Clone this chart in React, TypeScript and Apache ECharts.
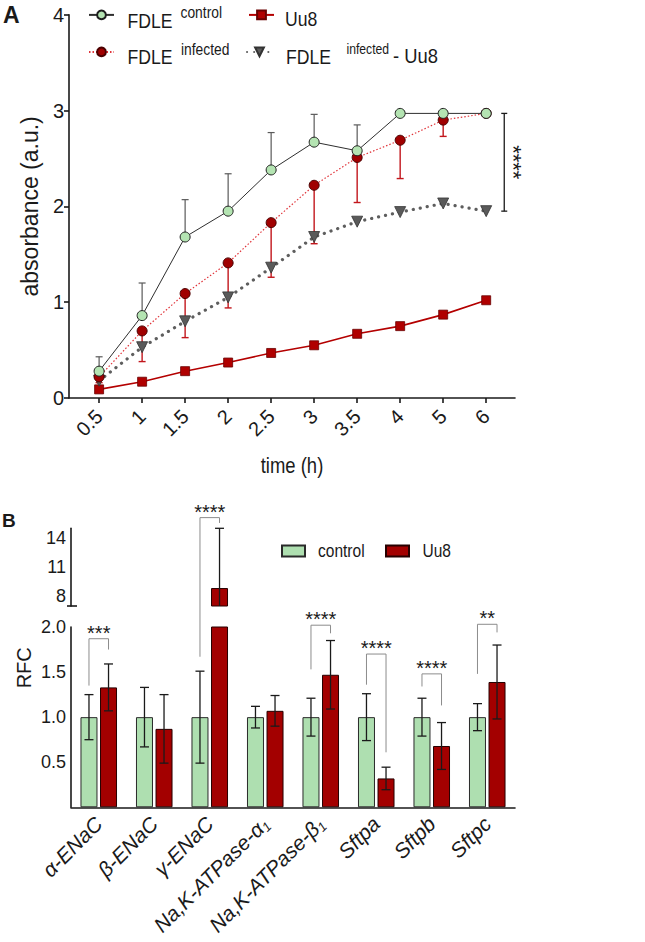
import React, { useEffect, useRef } from "react";
import * as echarts from "echarts";

// ---- Panel A: absorbance over time ----
const timeLabels = ["0.5", "1", "1.5", "2", "2.5", "3", "3.5", "4", "5", "6"];
const controlMean = [0.28, 0.86, 1.68, 1.95, 2.38, 2.67, 2.58, 2.97, 2.97, 2.97];
const controlSD = [0.15, 0.34, 0.39, 0.39, 0.39, 0.29, 0.27, 0, 0, 0];
const infectedMean = [0.22, 0.7, 1.09, 1.41, 1.83, 2.22, 2.51, 2.69, 2.9, 2.97];
const infectedSD = [0.06, 0.32, 0.46, 0.47, 0.57, 0.61, 0.47, 0.4, 0.17, 0];
const differenceMean = [0.18, 0.53, 0.8, 1.05, 1.36, 1.68, 1.84, 1.94, 2.03, 1.95];
const uu8Mean = [0.09, 0.17, 0.28, 0.37, 0.47, 0.55, 0.67, 0.75, 0.87, 1.02];
const absTicks = [0, 1, 2, 3, 4];
const sigAText = "****";

// ---- Panel B: relative fold change (broken axis) ----
const genes = ["α-ENaC", "β-ENaC", "γ-ENaC", "Na,K-ATPase-α1", "Na,K-ATPase-β1", "Sftpa", "Sftpb", "Sftpc"];
const controlRFC = [1, 1, 1, 1, 1, 1, 1, 1];
const controlRFCsd = [0.25, 0.33, 0.51, 0.12, 0.21, 0.26, 0.21, 0.15];
const uu8RFC = [1.33, 0.87, 8.85, 1.07, 1.47, 0.32, 0.68, 1.39];
const uu8RFCsd = [0.26, 0.38, 6.15, 0.17, 0.38, 0.125, 0.26, 0.41];
const lowerTicks = [0.5, 1, 1.5, 2];
const upperTicks = [8, 11, 14];
const lowerRange = [0, 2];
const upperRange = [7, 15];

// significance brackets; values at or above upperRange[0] are read on the upper segment
const sigGene = [0, 2, 4, 5, 6, 7];
const sigText = ["***", "****", "****", "****", "****", "**"];
const sigTop = [1.87, 16.1, 2.02, 1.7, 1.48, 2.03];
const sigLeftEnd = [1.35, 1.67, 1.53, 1.36, 1.34, 1.48];
const sigRightEnd = [1.75, 15.55, 1.93, 0.61, 1.13, 1.94];

const FONT = "'Liberation Sans', Arial, sans-serif";
const INK = "#1a1a1a";
const NARROW_X = 0.84; // horizontal squeeze for the condensed lettering

const BAR_W = 17;
const BAR_GAP = 0.15;
const BAR_DX = (BAR_W * (1 + BAR_GAP)) / 2;

const GREEN = "#aedfb0";
const DARK_RED = "#a30000";

const GRID_A = { left: 69, top: 14.7, width: 446, height: 383.3 };

const axisLine = { show: true, onZero: false, lineStyle: { color: INK, width: 1.6 } };
const tickStyle = { lineStyle: { color: INK, width: 1.6 }, length: 5 };

function errorBars(o: { up: boolean; down: boolean; dx: number; color: string; cap: number; width: number }) {
  return (params: any, api: any) => {
    const sd = api.value(2);
    if (!sd) return null;
    const i = api.value(0);
    const m = api.value(1);
    const cs = params.coordSys;
    const yMin = cs.y;
    const yMax = cs.y + cs.height;
    const x = api.coord([i, m])[0] + o.dx;
    const yHi = api.coord([i, o.up ? m + sd : m])[1];
    const yLo = api.coord([i, o.down ? m - sd : m])[1];
    const a = Math.max(yHi, yMin);
    const b = Math.min(yLo, yMax);
    if (a >= b) return null;
    const style = { stroke: o.color, lineWidth: o.width, fill: "none" };
    const children: any[] = [{ type: "line", shape: { x1: x, y1: a, x2: x, y2: b }, style }];
    if (o.up && yHi >= yMin - 0.5) children.push({ type: "line", shape: { x1: x - o.cap, y1: yHi, x2: x + o.cap, y2: yHi }, style });
    if (o.down && yLo <= yMax + 0.5) children.push({ type: "line", shape: { x1: x - o.cap, y1: yLo, x2: x + o.cap, y2: yLo }, style });
    return { type: "group", children };
  };
}

// legend keys only draw the sample; their wording is set as text below
function legendKey(name: string, left: number, centerY: number, w: number, h: number, icon?: string) {
  return {
    data: [name],
    left,
    top: centerY - h / 2,
    padding: 0,
    itemWidth: w,
    itemHeight: h,
    selectedMode: false,
    ...(icon ? { icon } : {}),
    formatter: () => "",
    textStyle: { fontSize: 8, lineHeight: 8 },
  };
}

// legend wording: [text, left, baseline, fontSize, squeeze]
const legendWords: [string, number, number, number, number][] = [
  ["FDLE", 127.5, 27.3, 21, NARROW_X],
  ["control", 180.5, 17.3, 16.5, NARROW_X],
  ["Uu8", 285, 25.6, 20, 0.88],
  ["FDLE", 127.5, 63.6, 21, NARROW_X],
  ["infected", 181, 54.6, 16.5, NARROW_X],
  ["FDLE", 286, 63.6, 21, NARROW_X],
  ["infected", 346.5, 54.6, 14.5, NARROW_X],
  ["- Uu8", 393, 63.6, 20, 0.92],
  ["control", 318, 557, 18.5, NARROW_X],
  ["Uu8", 422.5, 557, 18.5, NARROW_X],
];

function geneLabel(name: string) {
  const m = name.match(/^(.*[αβ])1$/);
  if (m) return `{i|${m[1]}}{sub|1}`;
  return `{i|${name}}`;
}

function buildOption(): any {
  return {
    animation: false,
    grid: [
      { ...GRID_A, outerBoundsMode: "none" },
      { left: 71, top: 528.3, width: 444, height: 77.7, outerBoundsMode: "none" },
      { left: 71, top: 627, width: 444, height: 180.3, outerBoundsMode: "none" },
    ],
    xAxis: [
      {
        type: "value",
        gridIndex: 0,
        min: -0.7,
        max: 9.67,
        axisLine,
        splitLine: { show: false },
        axisTick: { ...tickStyle, customValues: timeLabels.map((_, i) => i) },
        axisLabel: {
          customValues: timeLabels.map((_, i) => i),
          formatter: (v: number) => timeLabels[Math.round(v)],
          rotate: 45,
          margin: 15,
          fontSize: 20,
          fontFamily: FONT,
          color: INK,
        },
      },
      { type: "category", gridIndex: 1, data: genes, show: false },
      {
        type: "category",
        gridIndex: 2,
        data: genes,
        axisLine,
        axisTick: { ...tickStyle, alignWithLabel: true },
        axisLabel: {
          interval: 0,
          rotate: 45,
          margin: 13,
          formatter: geneLabel,
          rich: {
            i: { fontSize: 21, fontStyle: "italic", fontFamily: FONT, color: INK, lineHeight: 24 },
            sub: { fontSize: 13, fontStyle: "italic", fontFamily: FONT, color: INK, lineHeight: 13, verticalAlign: "bottom" },
          },
        },
      },
    ],
    yAxis: [
      {
        type: "value",
        gridIndex: 0,
        min: 0,
        max: 4,
        interval: 1,
        axisLine,
        axisTick: { ...tickStyle, customValues: absTicks },
        splitLine: { show: false },
        axisLabel: { customValues: absTicks, fontSize: 20, fontFamily: FONT, color: INK, margin: 5 },
        name: "absorbance (a.u.)",
        nameLocation: "middle",
        nameGap: 18,
        nameTextStyle: { fontSize: 23, fontFamily: FONT, color: INK },
      },
      {
        type: "value",
        gridIndex: 1,
        min: upperRange[0],
        max: upperRange[1],
        axisLine,
        axisTick: { ...tickStyle, customValues: upperTicks },
        splitLine: { show: false },
        axisLabel: { customValues: upperTicks, fontSize: 18, fontFamily: FONT, color: INK, margin: 5 },
      },
      {
        type: "value",
        gridIndex: 2,
        min: lowerRange[0],
        max: lowerRange[1],
        axisLine,
        axisTick: { ...tickStyle, customValues: lowerTicks },
        splitLine: { show: false },
        axisLabel: {
          customValues: lowerTicks,
          formatter: (v: number) => Number(v).toFixed(1),
          fontSize: 18,
          fontFamily: FONT,
          color: INK,
          margin: 5,
        },
      },
    ],
    legend: [
      legendKey("FDLE control", 88, 15, 25, 11),
      legendKey("Uu8", 248, 15, 25, 11),
      legendKey("FDLE infected", 88, 52, 25, 11),
      legendKey("FDLE infected - Uu8", 246, 52, 25, 11),
      legendKey("control", 281, 550, 23, 11, "rect"),
      legendKey("Uu8 ", 385, 550, 23, 11, "rect"),
    ],
    series: [
      // Panel A error bars (behind the markers)
      {
        type: "custom",
        name: "control SD",
        xAxisIndex: 0,
        yAxisIndex: 0,
        silent: true,
        z: 1,
        encode: { x: 0, y: 1 },
        renderItem: errorBars({ up: true, down: false, dx: 0, color: "#5a5a5a", cap: 3.5, width: 1.2 }),
        data: controlMean.map((m, i) => [i, m, controlSD[i]]),
      },
      {
        type: "custom",
        name: "infected SD",
        xAxisIndex: 0,
        yAxisIndex: 0,
        silent: true,
        z: 1,
        encode: { x: 0, y: 1 },
        renderItem: errorBars({ up: false, down: true, dx: 0, color: "#c2161c", cap: 3.5, width: 1.4 }),
        data: infectedMean.map((m, i) => [i, m, infectedSD[i]]),
      },
      {
        type: "line",
        name: "Uu8",
        xAxisIndex: 0,
        yAxisIndex: 0,
        z: 2,
        data: uu8Mean.map((v, i) => [i, v]),
        symbol: "rect",
        symbolSize: 9,
        lineStyle: { color: "#b40000", width: 1.6 },
        itemStyle: { color: "#b00000", borderColor: "#6a0000", borderWidth: 0.8 },
      },
      {
        type: "line",
        name: "FDLE infected - Uu8",
        xAxisIndex: 0,
        yAxisIndex: 0,
        z: 2,
        data: differenceMean.map((v, i) => [i, v]),
        symbol: "triangle",
        symbolRotate: 180,
        symbolSize: 11,
        lineStyle: { color: "#5e5e5e", width: 3.2, type: [0.1, 7], cap: "round" },
        itemStyle: { color: "#5a5a5a", borderColor: "#333", borderWidth: 0.8 },
      },
      {
        type: "line",
        name: "FDLE infected",
        xAxisIndex: 0,
        yAxisIndex: 0,
        z: 3,
        data: infectedMean.map((v, i) => [i, v]),
        symbol: "circle",
        symbolSize: 10,
        lineStyle: { color: "#e0343a", width: 1.2, type: [1.5, 2] },
        itemStyle: { color: "#a00000", borderColor: "#4a0000", borderWidth: 1 },
      },
      {
        type: "line",
        name: "FDLE control",
        xAxisIndex: 0,
        yAxisIndex: 0,
        z: 4,
        data: controlMean.map((v, i) => [i, v]),
        symbol: "circle",
        symbolSize: 10,
        lineStyle: { color: "#2e2e2e", width: 1 },
        itemStyle: { color: "#b4e4b2", borderColor: "#1e1e1e", borderWidth: 1 },
      },
      // significance bracket at 6 h
      {
        type: "custom",
        name: "6 h significance",
        xAxisIndex: 0,
        yAxisIndex: 0,
        silent: true,
        encode: { x: 0, y: 1 },
        renderItem: (_p: any, api: any) => {
          const x = api.coord([api.value(0), 0])[0];
          const y1 = api.coord([0, api.value(1)])[1];
          const y2 = api.coord([0, api.value(2)])[1];
          const st = { stroke: INK, lineWidth: 1.3 };
          return {
            type: "group",
            children: [
              { type: "line", shape: { x1: x, y1, x2: x, y2 }, style: st },
              { type: "line", shape: { x1: x - 3, y1, x2: x + 3, y2: y1 }, style: st },
              { type: "line", shape: { x1: x - 3, y1: y2, x2: x + 3, y2 }, style: st },
              {
                type: "text",
                x: x + 9,
                y: (y1 + y2) / 2,
                rotation: -Math.PI / 2,
                style: { text: sigAText, x: 0, y: 0, align: "center", verticalAlign: "middle", fontSize: 22, fontFamily: FONT, fill: INK },
              },
            ],
          };
        },
        data: [[timeLabels.length - 1 + 0.42, controlMean[9], differenceMean[9]]],
      },
      // Panel B bars, lower segment
      {
        type: "bar",
        name: "control",
        xAxisIndex: 2,
        yAxisIndex: 2,
        barWidth: BAR_W,
        barGap: `${BAR_GAP * 100}%`,
        data: controlRFC,
        itemStyle: { color: GREEN, borderColor: "#2a2a2a", borderWidth: 1 },
      },
      {
        type: "bar",
        name: "Uu8 ",
        xAxisIndex: 2,
        yAxisIndex: 2,
        barWidth: BAR_W,
        barGap: `${BAR_GAP * 100}%`,
        data: uu8RFC,
        itemStyle: { color: DARK_RED, borderColor: "#260000", borderWidth: 1 },
      },
      // upper segment
      {
        type: "bar",
        name: "control",
        xAxisIndex: 1,
        yAxisIndex: 1,
        barWidth: BAR_W,
        barGap: `${BAR_GAP * 100}%`,
        data: controlRFC.map((v) => (v > upperRange[0] ? v : "-")),
        itemStyle: { color: GREEN, borderColor: "#2a2a2a", borderWidth: 1 },
      },
      {
        type: "bar",
        name: "Uu8 ",
        xAxisIndex: 1,
        yAxisIndex: 1,
        barWidth: BAR_W,
        barGap: `${BAR_GAP * 100}%`,
        data: uu8RFC.map((v) => (v > upperRange[0] ? v : "-")),
        itemStyle: { color: DARK_RED, borderColor: "#260000", borderWidth: 1 },
      },
      {
        type: "custom",
        name: "control RFC SD",
        xAxisIndex: 2,
        yAxisIndex: 2,
        silent: true,
        z: 5,
        encode: { x: 0, y: 1 },
        renderItem: errorBars({ up: true, down: true, dx: -BAR_DX, color: INK, cap: 4.5, width: 1.3 }),
        data: controlRFC.map((m, i) => [i, m, controlRFCsd[i]]),
      },
      {
        type: "custom",
        name: "Uu8 RFC SD",
        xAxisIndex: 2,
        yAxisIndex: 2,
        silent: true,
        z: 5,
        encode: { x: 0, y: 1 },
        renderItem: errorBars({ up: true, down: true, dx: BAR_DX, color: INK, cap: 4.5, width: 1.3 }),
        data: uu8RFC.map((m, i) => [i, m, uu8RFCsd[i]]),
      },
      {
        type: "custom",
        name: "Uu8 RFC SD upper",
        xAxisIndex: 1,
        yAxisIndex: 1,
        silent: true,
        z: 5,
        encode: { x: 0, y: 1 },
        renderItem: errorBars({ up: true, down: true, dx: BAR_DX, color: INK, cap: 4.5, width: 1.3 }),
        data: uu8RFC.map((m, i) => [i, m, uu8RFCsd[i]]),
      },
    ],
  };
}

function buildGraphics(chart: echarts.ECharts): any[] {
  const px = (gene: number, v: number) => {
    const upper = v >= upperRange[0];
    return chart.convertToPixel({ gridIndex: upper ? 1 : 2 }, [genes[gene], v]) as number[];
  };
  const els: any[] = [
    { type: "text", x: 3, y: 3, style: { text: "A", fontSize: 23, fontWeight: "bold", fontFamily: FONT, fill: INK } },
    { type: "text", x: 2, y: 511, style: { text: "B", fontSize: 19, fontWeight: "bold", fontFamily: FONT, fill: INK } },
    // x-axis title of panel A, centred under the axis
    {
      type: "text",
      x: GRID_A.left + GRID_A.width / 2,
      y: GRID_A.top + GRID_A.height + 67,
      scaleX: NARROW_X,
      style: { text: "time (h)", x: 0, y: 0, align: "center", verticalAlign: "middle", fontSize: 22, fontFamily: FONT, fill: INK },
    },
  ];
  // legend wording, placed on its baseline
  legendWords.forEach(([text, left, baseline, size, sx]) => {
    els.push({
      type: "text",
      x: left,
      y: baseline - 0.3465 * size,
      scaleX: sx,
      style: { text, x: 0, y: 0, align: "left", verticalAlign: "middle", fontSize: size, fontFamily: FONT, fill: INK },
    });
  });
  // "RFC" centred on the whole broken axis
  const yTopAxis = chart.convertToPixel({ gridIndex: 1 }, [genes[0], upperRange[1]]) as number[];
  const yBottomAxis = chart.convertToPixel({ gridIndex: 2 }, [genes[0], lowerRange[0]]) as number[];
  els.push({
    type: "text",
    x: 24,
    y: (yTopAxis[1] + yBottomAxis[1]) / 2,
    rotation: Math.PI / 2,
    style: { text: "RFC", x: 0, y: 0, align: "center", verticalAlign: "middle", fontSize: 20, fontFamily: FONT, fill: INK },
  });
  // break mark at the foot of the upper segment
  const yBreak = (chart.convertToPixel({ gridIndex: 1 }, [genes[0], upperRange[0]]) as number[])[1];
  els.push({ type: "line", shape: { x1: 67, y1: yBreak, x2: 77, y2: yBreak }, style: { stroke: INK, lineWidth: 1.6 } });

  sigGene.forEach((g, k) => {
    const top = px(g, sigTop[k]);
    const left = px(g, sigLeftEnd[k]);
    const right = px(g, sigRightEnd[k]);
    const xl = top[0] - BAR_DX;
    const xr = top[0] + BAR_DX;
    els.push({
      type: "polyline",
      shape: { points: [[xl, left[1]], [xl, top[1]], [xr, top[1]], [xr, right[1]]] },
      style: { stroke: "#8c8c8c", lineWidth: 1, fill: "none" },
    });
    els.push({
      type: "text",
      x: (xl + xr) / 2,
      y: top[1] - 6,
      style: { text: sigText[k], x: 0, y: 0, align: "center", verticalAlign: "middle", fontSize: 20, fontFamily: FONT, fill: INK },
    });
  });
  return els;
}

export default function App() {
  const ref = useRef<HTMLDivElement>(null);
  useEffect(() => {
    if (!ref.current) return;
    const chart = echarts.init(ref.current, null, { renderer: "svg" });
    chart.setOption(buildOption());
    chart.setOption({ graphic: { elements: buildGraphics(chart) } });
    return () => chart.dispose();
  }, []);
  return <div ref={ref} style={{ position: "absolute", left: 0, top: 0, width: 645, height: 942, background: "#fff" }} />;
}
